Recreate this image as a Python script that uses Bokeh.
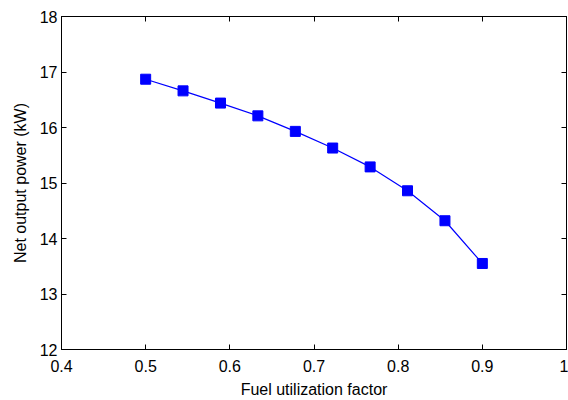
from bokeh.plotting import figure
from bokeh.models import Range1d, LinearAxis, FixedTicker
from bokeh.embed import file_html
from bokeh.resources import INLINE

fuel_util = [0.5, 0.5444, 0.5889, 0.6333, 0.6778, 0.7222, 0.7667, 0.8111, 0.8556, 0.9]
net_power = [16.87, 16.66, 16.44, 16.21, 15.93, 15.63, 15.29, 14.86, 14.32, 13.55]
x_ticks = [0.4, 0.5, 0.6, 0.7, 0.8, 0.9, 1.0]
y_ticks = [12, 13, 14, 15, 16, 17, 18]

FONT = "Liberation Sans"

p = figure(width=568, height=400, output_backend="svg", toolbar_location=None,
           x_range=Range1d(0.4, 1.0), y_range=Range1d(12, 18),
           min_border_left=61, min_border_right=2, min_border_top=16, min_border_bottom=48,
           x_axis_label="Fuel utilization factor", y_axis_label="Net output power (kW)")
p.grid.visible = False
p.outline_line_color = "black"
p.background_fill_color = "white"
p.border_fill_color = "white"

p.xaxis.ticker = FixedTicker(ticks=x_ticks)
p.yaxis.ticker = FixedTicker(ticks=y_ticks)
p.xaxis.major_label_overrides = {1.0: "1"}

for ax in list(p.xaxis) + list(p.yaxis):
    ax.major_tick_in = 5
    ax.major_tick_out = 0
    ax.minor_tick_line_color = None
    ax.axis_line_color = "black"
    ax.major_tick_line_color = "black"
    ax.major_label_text_font = FONT
    ax.major_label_text_font_size = "16px"
    ax.major_label_text_color = "black"
    ax.axis_label_text_font = FONT
    ax.axis_label_text_font_size = "16px"
    ax.axis_label_text_font_style = "normal"
    ax.axis_label_text_color = "black"
p.xaxis.major_label_standoff = 10
p.yaxis.major_label_standoff = 4
p.xaxis.axis_label_standoff = 6
p.yaxis.axis_label_standoff = 8

top = LinearAxis(ticker=FixedTicker(ticks=x_ticks), major_label_text_font_size="0px",
                 major_tick_in=5, major_tick_out=0, minor_tick_line_color=None,
                 major_label_standoff=0)
right = LinearAxis(ticker=FixedTicker(ticks=y_ticks), major_label_text_font_size="0px",
                   major_tick_in=5, major_tick_out=0, minor_tick_line_color=None,
                   major_label_standoff=0)
top.major_label_text_color = None
right.major_label_text_color = None
p.add_layout(top, "above")
p.add_layout(right, "right")

p.line(fuel_util, net_power, line_color="#0000FF", line_width=1.2)
p.scatter(fuel_util, net_power, marker="square", size=10,
          fill_color="#0000FF", line_color="#0000FF")

open("out.html", "w").write(file_html(p, INLINE))
